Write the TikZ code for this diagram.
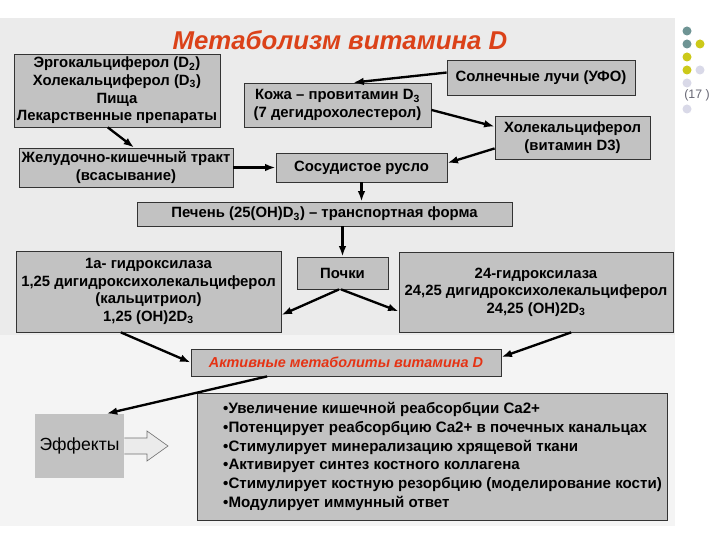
\documentclass[tikz,border=0pt]{standalone}
\usepackage{fontspec}
\setmainfont{Liberation Sans}
\usetikzlibrary{arrows.meta}

\newlength{\du}
\setlength{\du}{0.03cm}

\begin{document}
\begin{tikzpicture}[
  blk/.style={draw=boxline, fill=boxgray, line width=0.7pt, inner sep=0pt, align=center,
    font=\fontsize{12.7}{15}\selectfont\bfseries},
  arr/.style={line width=2pt, -{Latex[length=9pt,width=6.5pt]}},
  dot/.style={circle, inner sep=0pt, minimum size=9\du},
]
\pgftransformxscale{1.000000}
\pgftransformyscale{-1.000000}
\definecolor{panelgray}{rgb}{0.922, 0.922, 0.922}
\definecolor{lowgray}{rgb}{0.955, 0.955, 0.955}
\definecolor{boxgray}{rgb}{0.760, 0.760, 0.760}
\definecolor{boxline}{rgb}{0.200, 0.200, 0.200}
\definecolor{titlered}{rgb}{0.860, 0.260, 0.100}
\definecolor{activered}{rgb}{0.900, 0.200, 0.080}
\definecolor{dotteal}{rgb}{0.430, 0.580, 0.580}
\definecolor{dotyellow}{rgb}{0.800, 0.790, 0.100}
\definecolor{dotlilac}{rgb}{0.850, 0.850, 0.910}
\definecolor{pagegray}{rgb}{0.400, 0.400, 0.450}

\fill[white] (0\du,0\du) rectangle (720\du,540\du);
\fill[panelgray] (0\du,18\du) rectangle (675\du,335\du);
\fill[lowgray] (0\du,335\du) rectangle (675\du,526\du);

\node[dot, fill=dotteal] (d1) at (687\du,31\du){};
\node[dot, fill=dotteal] (d2) at (687\du,44\du){};
\node[dot, fill=dotyellow] (d3) at (700\du,44\du){};
\node[dot, fill=dotyellow] (d4) at (687\du,57\du){};
\node[dot, fill=dotyellow] (d5) at (687\du,70\du){};
\node[dot, fill=dotlilac] (d6) at (700\du,70\du){};
\node[dot, fill=dotlilac] (d7) at (687\du,83\du){};
\node[dot, fill=dotlilac] (d8) at (687\du,109\du){};
\node[font=\fontsize{10.5}{12}\selectfont, text=pagegray] (page) at (697\du,95\du){(17 )};

\node[font=\fontsize{22}{26}\selectfont\bfseries\itshape, text=titlered] (title) at (340\du,40\du){Метаболизм витамина D};

\node[blk, minimum width=206\du, minimum height=73\du] (ergo) at (117\du,90.5\du)
  {Эргокальциферол (D\textsubscript{2})\\Холекальциферол (D\textsubscript{3})\\Пища\\Лекарственные препараты};
\node[blk, minimum width=188\du, minimum height=35\du] (sun) at (541\du,77.5\du){Солнечные лучи (УФО)};
\node[blk, minimum width=187\du, minimum height=44\du] (skin) at (337.5\du,105\du)
  {Кожа – провитамин D\textsubscript{3}\\(7 дегидрохолестерол)};
\node[blk, minimum width=155\du, minimum height=43\du] (chole) at (572.5\du,137.5\du)
  {Холекальциферол\\(витамин D3)};
\node[blk, minimum width=214\du, minimum height=39\du] (gi) at (126\du,167.5\du)
  {Желудочно-кишечный тракт\\(всасывание)};
\node[blk, minimum width=171\du, minimum height=29\du] (vessel) at (361.5\du,167.5\du){Сосудистое русло};
\node[blk, minimum width=375\du, minimum height=24\du] (liver) at (324.5\du,214\du)
  {Печень (25(OH)D\textsubscript{3}) – транспортная форма};
\node[blk, minimum width=265\du, minimum height=81\du] (hydro1) at (148.5\du,291.5\du)
  {1a- гидроксилаза\\1,25 дигидроксихолекальциферол\\(кальцитриол)\\1,25 (OH)2D\textsubscript{3}};
\node[blk, minimum width=91\du, minimum height=32\du] (kidney) at (342.5\du,273\du){Почки};
\node[blk, minimum width=274\du, minimum height=80\du] (hydro24) at (536\du,292\du)
  {24-гидроксилаза\\24,25 дигидроксихолекальциферол\\24,25 (OH)2D\textsubscript{3}};
\node[blk, minimum width=310\du, minimum height=27\du, text=activered, font=\fontsize{12.3}{14}\selectfont\bfseries\itshape] (active) at (346\du,362.5\du)
  {Активные метаболиты витамина D};
\node[blk, draw=none, minimum width=89\du, minimum height=64\du, font=\fontsize{15}{17}\selectfont] (effects) at (79.5\du,446\du){Эффекты};
\node[blk, minimum width=470\du, minimum height=127\du] (list) at (432\du,456.5\du){};
\node[anchor=west, align=left, inner sep=0pt, font=\fontsize{12.9}{15.9}\selectfont\bfseries] (listtxt) at (223\du,456.5\du)
  {•Увеличение кишечной реабсорбции Ca2+\\
   •Потенцирует реабсорбцию Ca2+ в почечных канальцах\\
   •Стимулирует минерализацию хрящевой ткани\\
   •Активирует синтез костного коллагена\\
   •Стимулирует костную резорбцию (моделирование кости)\\
   •Модулирует иммунный ответ};

\draw[fill=panelgray, draw=boxline!70, line width=0.5pt] (effects.east |- 0,438\du) -- (147\du,438\du) -- (147\du,431\du)
  -- (168\du,446\du) -- (147\du,461\du) -- (147\du,454\du) -- (effects.east |- 0,454\du);

\draw[arr] (sun.177) -- (skin.55);
\draw[arr] (skin.-3) -- (chole.172);
\draw[arr] (chole.188) -- (vessel.3);
\draw[arr] (ergo.-104) -- (gi.68);
\draw[arr] (gi.east) -- (vessel.west);
\draw[arr] (vessel.south) -- (vessel.south |- liver.north);
\draw[arr] (kidney.north |- liver.south) -- (kidney.north);
\draw[arr] (kidney.-102) -- (hydro1.-10);
\draw[arr] (kidney.-95) -- (hydro24.188);
\draw[arr] (hydro1.-124) -- (active.west);
\draw[arr] (hydro24.-49) -- (active.2);
\draw[arr] (active.-170) -- (effects.50);
\end{tikzpicture}
\end{document}
